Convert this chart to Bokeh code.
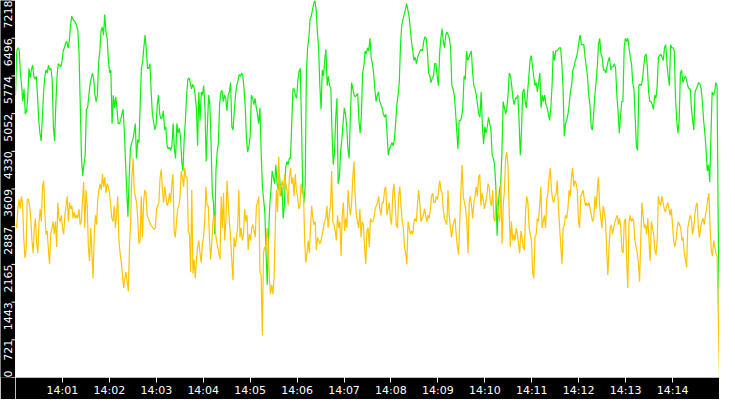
import numpy as np
import pandas as pd
from math import pi
from bokeh.plotting import figure
from bokeh.layouts import row
from bokeh.models import Range1d, FixedTicker, DatetimeTickFormatter, ColumnDataSource
from bokeh.core.properties import value, field
from bokeh.embed import file_html
from bokeh.resources import INLINE

# axis ticks as printed on the chart
y_ticks = [0, 721, 1443, 2165, 2887, 3609, 4330, 5052, 5774, 6496, 7218]
x_ticks = ["14:01", "14:02", "14:03", "14:04", "14:05", "14:06", "14:07", "14:08",
           "14:09", "14:10", "14:11", "14:12", "14:13", "14:14"]
day = "2024-01-01"
t_start = "14:00:00"
t_end = "14:15:00"

# green series left to right
green = [
    5405, 6252, 6313, 6282, 5829, 5587, 5284, 5526, 5042, 5103, 5345, 5920, 5738, 5889, 5980, 5768, 5708, 5768, 5405, 4921,
    4679, 4528, 4982, 5466, 5768, 5889, 5829, 5980, 5889, 5920, 5708, 4800, 4528, 5224, 5768, 6010, 5980, 5950, 6040, 6252,
    6313, 6404, 6434, 6313, 6434, 6736, 6918, 6857, 6827, 6797, 6736, 6645, 6192, 5193, 4195, 3862, 4074, 4256, 5133, 5163,
    5405, 5617, 5738, 5829, 5708, 5405, 5284, 5405, 6040, 6252, 6645, 6706, 6555, 6948, 6615, 6494, 6071, 5829, 5889, 4861,
    5405, 5163, 5375, 5163, 4861, 4861, 4921, 5042, 5133, 4740, 4135, 3590, 3076, 3832, 4376, 4497, 4558, 4679, 4861,
    4195, 4558, 4497, 5224, 5920, 6040, 6313, 6555, 6282, 5920, 5920, 6010, 5466, 5042, 4891, 4740, 4831, 5224, 5405, 5042,
    4952, 4982, 5103, 4740, 4800, 4437, 4376, 4407, 4346, 4437, 4861, 4376, 4195, 4861, 4679, 4770, 4619, 4135, 3953, 4558,
    4921, 5405, 5708, 5738, 5647, 5526, 5617, 5557, 5405, 5163, 4437, 5466, 4921, 5466, 5405, 5587, 5163, 4135, 4800, 5405,
    5224, 4497, 3530, 3348, 2743, 3953, 4316, 4497, 5224, 5466, 5496, 5284, 5405, 5345, 5103, 5405, 5466, 5647, 4800, 4740,
    5103, 5405, 5587, 5678, 5799, 5768, 5829, 5768, 5526, 5163, 4558, 4316, 4437, 4619, 5405, 5345, 5224,
    5345, 5163, 5042, 4861, 5163, 4316, 3651, 3409, 3167, 2380, 1775, 2683, 3288, 3590, 3953, 3832, 3711, 4074, 3711, 3590,
    3893, 3469, 3651, 3046, 3288, 4014, 4135, 4074, 4195, 4195, 4861, 5526, 5526, 5405, 5345, 5678, 5859, 5920, 4861, 3590,
    3348, 3651, 5829, 6313, 6494, 6857, 6918, 7040, 7160, 7218, 7040, 6615, 6313, 5587, 5133, 5889, 5768, 6071, 6282, 5587,
    5768, 5587, 5526, 4679, 4074, 4316, 4982, 5345, 3711, 3832, 4316, 4558, 4861, 5163, 5042, 4800, 4376, 4195, 5042, 5647,
    5526, 5405, 5375, 5405, 5436, 4921, 4679, 5042, 5829, 5950, 6252, 6192, 6313, 6252, 6494, 6131, 6010, 5829, 5526, 5284,
    5405, 5466,
    5284, 5224, 5163, 5042, 4982, 5042, 4679, 4256, 4376, 4437, 4497, 4437, 4558, 4861, 5224, 5405, 5647, 6373, 6736, 6857,
    6948, 7040, 7160, 7040, 6918, 6676, 6434, 6252, 6071, 6131, 6010, 6131, 6192, 6252, 6282, 6252, 6434, 6524, 6494, 6252,
    5829, 5768, 5647, 5738, 5768, 6010, 6010, 5768, 5587, 6192, 6494, 6676, 6434, 6313, 6555, 6615, 6555, 6494, 6313, 5587,
    5526, 5405, 5103, 4740, 4376, 4921, 4921, 4982, 5163, 5768, 5708, 6252, 6071, 6131, 6192, 6252, 5829, 5587, 5526, 5405,
    5224, 5042, 4982, 5466, 4800, 4467, 4800, 4679, 4800, 4982, 4861, 4740, 4256, 4195, 4074, 3651, 2713, 3288, 3590, 3711,
    4316, 5284, 5163, 5042, 5163, 5405, 5829, 5768, 5587, 5345, 5224, 5345, 5345, 5405, 4921, 4256, 4740, 5466, 5526, 5284,
    5163, 5466, 5768, 6071, 6162, 5950, 5768, 5587, 5647, 5466, 5647, 5829, 5163, 5405, 5284, 5405, 5224, 5163, 5042, 4921,
    5163, 5587, 6252, 6071, 6252, 6252, 6282, 6313, 6313, 6010, 5526, 4619, 4861, 4921, 5042, 5224, 5466, 5587, 5889, 5950,
    6071, 6131, 6252, 6434, 6555, 6373, 6373, 6373, 6131, 5950, 5768, 5405, 5224, 4800, 4740, 5042, 5405, 5647, 5950, 6373,
    6494, 6192, 6131, 5889, 5889, 5829,
    5950, 6071, 6131, 5889, 5950, 5950, 6010, 5920, 5405, 5103, 4679, 4982, 5284, 5284, 6313, 6494, 6434, 6494, 6313, 6131,
    6010, 5647, 5526, 4982, 4437, 4346, 5587, 5617, 5587, 5708, 5950, 6162, 6192, 5950, 5466, 5284, 5284, 5224, 5133, 5405,
    5345, 5587, 6131, 6162, 6192, 6131, 6071, 6313, 6373, 6010, 5768, 5587, 6373, 6313, 6313, 6252, 5345, 4921, 4679, 4921,
    5829, 5889, 5647, 5708, 5768, 5708, 5587, 5526, 5526, 5163, 4921, 4740, 5466, 5526, 5587, 5647, 5617, 5526, 5284, 4921,
    4679, 4376, 3953, 4074, 3742, 4619, 5466, 5405, 5466, 5647, 5587, 2804, 1100,
]

# yellow series left to right
yellow = [
    2925, 2864, 3227, 3409, 3227, 3469, 3348, 2683, 2290, 2441, 3409, 3409, 3288, 3046, 2622, 2380, 2864, 3046, 2562, 2380,
    2985, 3227, 2985, 3651, 3772, 3106, 2743, 2804, 2441, 2168, 2743, 2864, 2985, 2743, 2985, 2501, 3348, 3046, 2985, 3106,
    2864, 2743, 3106, 3288, 3469, 2985, 3348, 3227, 3288, 3046, 3167, 3046, 3106, 3046, 3227, 2925, 2985, 3409, 3742, 2864,
    3590, 3288, 2501, 2229, 2864, 2380, 1896, 2743, 3106, 2925, 3409, 3590, 3711, 3590, 3893, 3651, 3832, 3530, 3711, 3651,
    3530, 3288, 3046, 2985, 3288, 2864, 3106, 3469, 2622, 2380, 2199, 1957, 1715, 1896, 2017, 1836, 1654, 2501, 2985, 3832,
    4195, 3590, 3469, 3348, 3046, 2562, 2622,
    3469, 2683, 3348, 3590, 3530, 3106, 3046, 2985, 2925, 2895, 2864, 2834, 2864, 3227, 3288, 3348, 3832, 3983, 3590, 3348,
    3651, 3469, 3288, 3348, 3530, 3348, 3711, 3893, 2804, 2683, 2985, 3227, 3288, 3469, 3953, 3832, 3651, 4014, 3832, 3832,
    2804, 2743, 2017, 3590, 1987, 2259, 1896, 2259, 2501, 2622, 2380, 2199, 2562, 2683, 2985, 3651, 3288, 3288, 2683, 2259,
    2562, 2985, 3106, 2804, 2622, 2501, 2380, 2259, 3469, 2864, 3530, 2622, 2985, 3772, 3348, 2985, 2683, 2259, 1866, 2683,
    2501, 2683, 2864, 3590, 2683, 2864, 2622, 2743, 3227, 2985, 3106, 2441, 2743, 2622, 2864, 2925, 2804, 2683, 3288, 3348,
    3469, 2017, 1957, 810, 2380, 2501, 2441,
    2864, 2622, 1896, 1594, 1775, 1594, 1896, 2864, 3590, 3167, 4225, 3469, 3651, 3772, 3590, 3893, 3711, 3590, 3288, 3832,
    4014, 3711, 3832, 3469, 3893, 3590, 3469, 3227, 3288, 3711, 3530, 3590, 2622, 2199, 2380, 2622, 2380, 2864, 3288, 3046,
    2925, 2985, 2441, 2683, 2622, 2562, 2622, 2743, 2864, 2985, 3046, 3288, 2864, 3106, 3288, 3953, 2985, 2925, 2804, 2622,
    3106, 2864, 2985, 2320, 3106, 3348, 2804, 3046, 2864, 3590, 3288, 3106, 3348, 3832, 4135, 3469, 3106, 2985, 2864, 3227,
    2683, 2985, 2925, 2501, 2168, 2804, 2864, 2501, 3046, 2985, 2985, 3046, 3227, 3288, 3348, 3469, 3227, 3106, 3348, 3348,
    3590, 3651,
    3106, 3227, 3348, 3046, 2925, 3530, 3711, 3348, 2925, 2864, 3469, 3651, 3288, 2985, 2864, 2501, 2380, 2168, 2985, 2864,
    2743, 2804, 2743, 2985, 3046, 2985, 3288, 3590, 3348, 2985, 3046, 3106, 3227, 3106, 2985, 3106, 3046, 3227, 3469, 3530,
    3348, 3348, 3469, 3409, 3590, 3772, 3590, 3530, 3227, 3046, 2985, 2925, 3590, 3106, 2864, 2683, 2864, 2985, 3046, 2743,
    2501, 2350, 2985, 3590, 4074, 3469, 3348, 3227, 2985, 2380, 3348, 3469, 3288, 3046, 3348, 3469, 3651, 3469, 3832, 3893,
    3288, 3530, 3409, 3227, 3348, 3469, 3711, 3651, 3348, 3288, 3590, 3046, 2985, 3590, 3348, 3106, 2985, 3711, 2562, 3288,
    3590, 4195, 4316,
    4074, 3227, 2501, 2985, 2622, 2743, 2622, 2864, 2743, 2562, 2380, 2804, 2683, 2501, 2441, 3167, 3469, 3348, 2864, 2743,
    2622, 2017, 1896, 2683, 2743, 3046, 2985, 3288, 3651, 2864, 2985, 3106, 2864, 3409, 3530, 3832, 4014, 3590, 3409, 3348,
    3469, 3530, 3772, 3227, 2864, 2501, 2168, 2864, 2925, 3106, 3046, 3227, 3590, 3469, 3832, 4014, 3651, 3772, 3711, 3590,
    2985, 2864, 3469, 3530, 3590, 3409, 3288, 3348, 3288, 3348, 3227, 3106, 2985, 3046, 3469, 3227, 3590, 3832, 3288, 3046,
    2864, 3288, 3167, 2985, 2441, 1957, 2501, 2864, 2925,
    2743, 2864, 2985, 3046, 3106, 2925, 3046, 2864, 2441, 2380, 2985, 3046, 2259, 1715, 2985, 3106, 2985, 3046, 2985, 2622,
    2501, 2380, 2199, 1836, 2622, 3348, 3106, 2864, 2925, 2743, 3046, 2622, 2229, 2985, 2864, 2743, 2441, 2350, 2622, 3469,
    3348, 3288, 3469, 3348, 3227, 3167, 3288, 3348, 3227, 3106, 3227, 2925, 2622, 2501, 2622, 2864, 2985, 2925, 2864, 2622,
    2683, 2380, 2259, 2108, 2864, 2985, 3106, 3046, 2743, 2864, 3106, 3288, 3348, 2864, 2683, 2864, 2985, 3046, 2925, 3106,
    3227, 3409, 3530, 2864, 2441, 2320, 2622, 2501, 2380, 2320, 1110, 0,
]

start = pd.Timestamp(f"{day} {t_start}")
end = pd.Timestamp(f"{day} {t_end}")


def stamps(n):
    # samples are evenly spaced over the quarter hour
    return pd.date_range(start, end, periods=n)


yr = Range1d(0, 7218)

# main plot
p = figure(width=704, height=399, x_axis_type="datetime",
           x_range=Range1d(start, end), y_range=yr, y_axis_location=None,
           output_backend="svg", toolbar_location=None,
           min_border_left=0, min_border_bottom=17, min_border_top=0, min_border_right=0)
p.border_fill_color = "black"
p.background_fill_color = "white"
p.outline_line_color = None
p.xgrid.visible = False
p.ygrid.visible = False

p.line(stamps(len(green)), green, line_width=1.2, color="#11ee11")
p.line(stamps(len(yellow)), yellow, line_width=1.2, color="#ffc400")

p.xaxis.ticker = FixedTicker(ticks=[pd.Timestamp(f"{day} {t}").value // 10**6 for t in x_ticks])
p.xaxis.formatter = DatetimeTickFormatter(minsec="%H:%M", minutes="%H:%M", hourmin="%H:%M", hours="%H:%M")
p.xaxis.major_label_text_color = "white"
p.xaxis.major_label_text_font = "DejaVu Sans"
p.xaxis.major_label_text_font_size = "11px"
p.xaxis.major_label_standoff = 1
p.xaxis.major_tick_line_color = "white"
p.xaxis.major_tick_out = 5
p.xaxis.major_tick_in = 0
p.xaxis.minor_tick_line_color = None
p.xaxis.axis_line_color = None

# black strip on the left with rotated value labels
side = figure(width=15, height=399, x_range=Range1d(0, 15), y_range=yr,
              x_axis_location=None, y_axis_location=None,
              output_backend="svg", toolbar_location=None,
              min_border_left=0, min_border_bottom=17, min_border_top=0, min_border_right=0)
side.border_fill_color = "black"
side.background_fill_color = "black"
side.outline_line_color = None
side.xgrid.visible = False
side.ygrid.visible = False

ylab = ColumnDataSource(dict(
    x=[7] * len(y_ticks), y=y_ticks, text=[str(t) for t in y_ticks],
    align=["left" if t == 0 else "right" for t in y_ticks],
    x0=[11] * len(y_ticks), x1=[15] * len(y_ticks),
))
side.text(x="x", y="y", text="text", source=ylab, angle=pi / 2,
          text_align=field("align"), text_baseline="middle",
          text_color="white", text_font=value("DejaVu Sans"), text_font_size="11px")
side.segment(x0="x0", y0="y", x1="x1", y1="y", source=ylab, line_color="white", line_width=1)

layout = row(side, p)
open("out.html", "w").write(file_html(layout, INLINE))
